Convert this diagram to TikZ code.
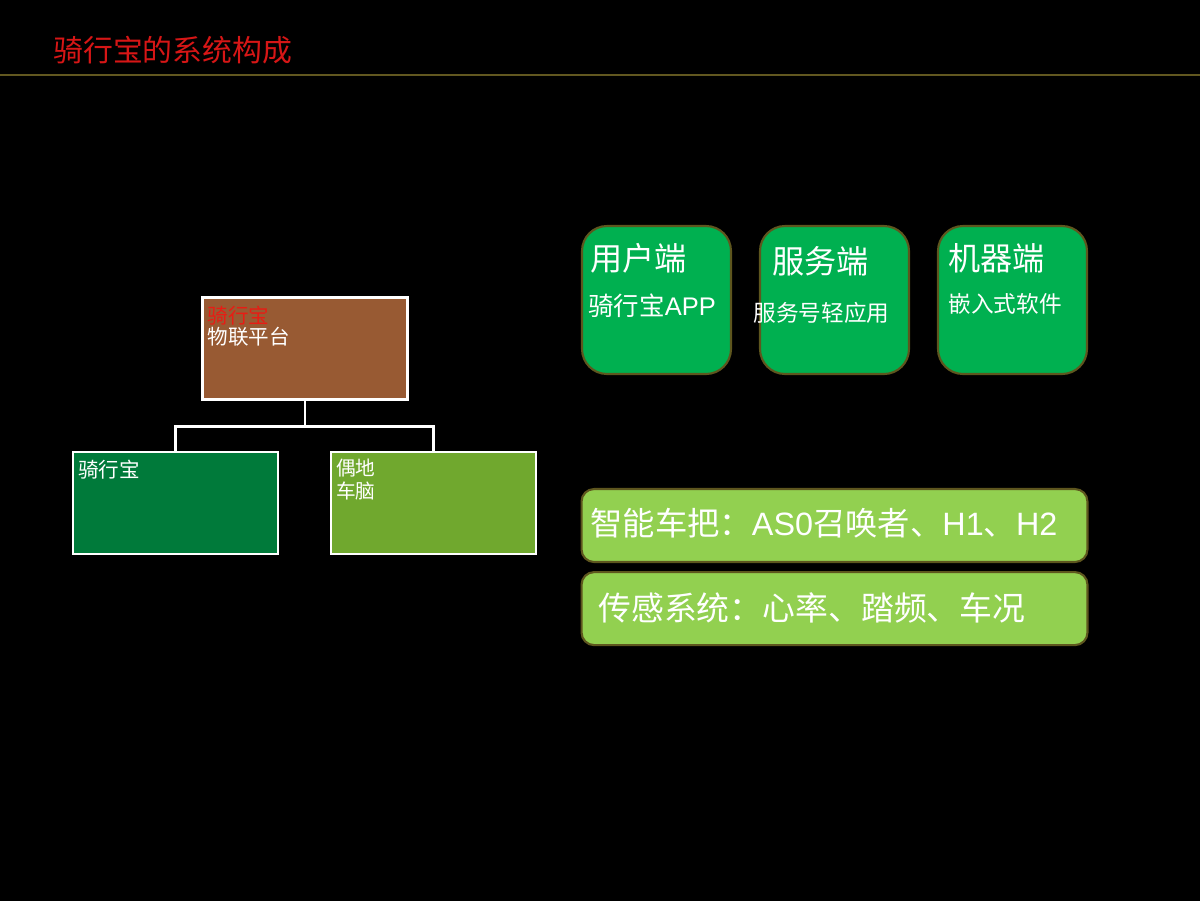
\documentclass[tikz,border=0pt]{standalone}
\usepackage{fontspec}
\setmainfont{Noto Sans CJK SC}
\newfontfamily\lat{Liberation Sans}
\usepackage{xcolor}
\usetikzlibrary{positioning,calc}
\definecolor{titlered}{RGB}{214,22,22}
\definecolor{titleline}{RGB}{98,88,32}
\definecolor{platbrown}{RGB}{152,90,51}
\definecolor{bikegreen}{RGB}{0,122,58}
\definecolor{brainolive}{RGB}{112,168,46}
\definecolor{appgreen}{RGB}{0,176,80}
\definecolor{barlime}{RGB}{146,208,80}
\definecolor{edgeolive}{RGB}{94,86,30}
\definecolor{hotred}{RGB}{232,28,20}

\begin{document}
\begin{tikzpicture}[x=0.02cm,y=-0.02cm]
			\tikzstyle{tree}=[draw=white,line width=1.4pt,minimum width=4.1cm,minimum height=2.04cm,inner sep=0pt]
			\tikzstyle{side}=[draw=edgeolive,line width=1.2pt,fill=appgreen,rounded corners=0.5cm,minimum width=2.98cm,minimum height=2.96cm,inner sep=0pt]
			\tikzstyle{bar}=[draw=edgeolive,line width=1.2pt,fill=barlime,rounded corners=0.25cm,minimum width=10.12cm,minimum height=1.46cm,inner sep=0pt]
			\tikzstyle{txt}=[text=white,inner sep=0pt,anchor=west]
			\tikzstyle{big}=[font=\fontsize{18.3}{22}\selectfont]
			\tikzstyle{small}=[font=\fontsize{12.9}{15}\selectfont]
			
			\useasboundingbox (0,0) rectangle (1200,900);
			\fill[black] (-10,-10) rectangle (1210,910);
			
			% title
			\node[txt,text=titlered,font=\fontsize{17}{20}\selectfont] (title) at (53,50) {骑行宝的系统构成};
			\draw[titleline,line width=1.2pt] (0,75) -- (1200,75);
			
			% tree
			\node[tree,fill=platbrown] (plat) at (305,348.5) {};
			\node[tree,fill=bikegreen] (bike) at (175.5,503) {};
			\node[tree,fill=brainolive] (brain) at (433.5,503) {};
			\coordinate (fork) at ($(plat.south)+(0,26)$);
			\draw[white,line width=1.4pt] (plat.south) -- (fork) -| (bike.north);
			\draw[white,line width=1.4pt] (fork) -| (brain.north);
			
			\node[txt,anchor=north west,align=left,font=\fontsize{11.7}{12}\selectfont] at ($(plat.north west)+(6,9)$) {\textcolor{hotred}{骑行宝}\\物联平台};
			\node[txt,anchor=north west,font=\fontsize{11.7}{12}\selectfont] at ($(bike.north west)+(6,9)$) {骑行宝};
			\node[txt,anchor=north west,align=left,font=\fontsize{11.2}{13}\selectfont] at ($(brain.north west)+(6,8)$) {偶地\\车脑};
			
			% three ends
			\node[side] (app) at (656.5,300) {};
			\node[side] (serv) at (834.5,300) {};
			\node[side] (mach) at (1012.5,300) {};
			
			\node[txt,big] at (590,258) {用户端};
			\node[txt,font=\fontsize{14.5}{17}\selectfont] at (588,306) {骑行宝{\lat APP}};
			\node[txt,big] at (772,261) {服务端};
			\node[txt,small] at (753,313) {服务号轻应用};
			\node[txt,big] at (948,258) {机器端};
			\node[txt,small] at (948,304) {嵌入式软件};
			
			% hardware bars
			\node[bar] (grip) at (834.5,525.5) {};
			\node[bar] (sense) [below=0.16cm of grip] {};
			\node[txt,font=\fontsize{18.4}{22}\selectfont] at (590,523) {智能车把：{\lat AS0}召唤者、{\lat H1}、{\lat H2}};
			\node[txt,font=\fontsize{18.7}{22}\selectfont] at (598,608) {传感系统：心率、踏频、车况};
		\end{tikzpicture}
\end{document}
